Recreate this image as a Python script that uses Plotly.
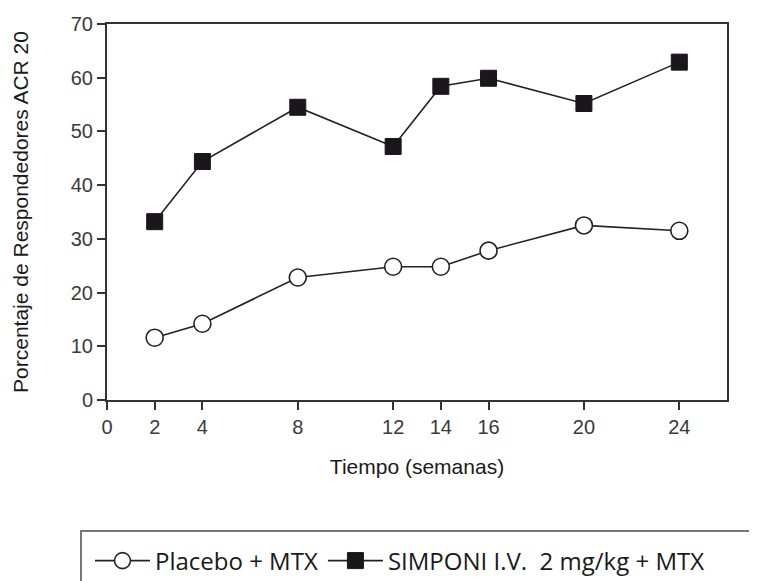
import plotly.graph_objects as go

weeks = [2, 4, 8, 12, 14, 16, 20, 24]
placebo = [11.6, 14.2, 22.8, 24.8, 24.8, 27.8, 32.5, 31.5]
simponi = [33.2, 44.4, 54.5, 47.2, 58.4, 59.9, 55.2, 62.9]
xticks = [0, 2, 4, 8, 12, 14, 16, 20, 24]
yticks = [0, 10, 20, 30, 40, 50, 60, 70]
names = ["Placebo + MTX", "SIMPONI I.V.  2 mg/kg + MTX"]

fig = go.Figure()
fig.add_trace(go.Scatter(
    x=weeks, y=placebo, name=names[0], mode="lines+markers",
    line=dict(color="#222222", width=1.6),
    marker=dict(symbol="circle", size=17, color="white",
                line=dict(color="#222222", width=1.6)),
))
fig.add_trace(go.Scatter(
    x=weeks, y=simponi, name=names[1], mode="lines+markers",
    line=dict(color="#222222", width=1.6),
    marker=dict(symbol="square", size=16, color="#1a161c",
                line=dict(color="#1a161c", width=1)),
))

# page offset (browser body margin)
OFF = 8
W, H = 757 - OFF, 581 - OFF
L, T = 107 - OFF, 24 - OFF
R = W - (727 - OFF)
B = H - (400 - OFF)
pw, ph = W - L - R, H - T - B

def px(xp):
    return (xp - OFF - L) / pw

def py(yp):
    return (H - B - (yp - OFF)) / ph

fig.add_shape(type="rect", xref="paper", yref="paper",
              x0=px(81), x1=px(770), y0=py(531), y1=py(600),
              line=dict(color="#777777", width=2), fillcolor="rgba(0,0,0,0)")

fig.update_layout(
    width=W, height=H,
    margin=dict(l=L, r=R, t=T, b=B, autoexpand=False),
    paper_bgcolor="white", plot_bgcolor="white",
    font=dict(family="Liberation Sans", color="#3a3a3a"),
    showlegend=True,
    legend=dict(
        orientation="h", x=px(90), y=py(561), xanchor="left", yanchor="middle",
        font=dict(family="Open Sans", size=24, color="#1a1a1a"),
        itemwidth=55, bgcolor="rgba(0,0,0,0)", borderwidth=0,
        tracegroupgap=0,
    ),
    xaxis=dict(
        range=[0, 26], tickvals=xticks, ticktext=[str(v) for v in xticks],
        showgrid=False, zeroline=False, showline=True, mirror=True,
        linecolor="#333333", linewidth=2, automargin=False,
        ticks="outside", ticklen=8, tickwidth=2, tickcolor="#333333",
        tickfont=dict(size=20, color="#3a3a3a"),
        title=dict(text="Tiempo (semanas)", font=dict(size=21, color="#1a1a1a"), standoff=22),
    ),
    yaxis=dict(
        range=[0, 70], tickvals=yticks, ticktext=[str(v) for v in yticks],
        showgrid=False, zeroline=False, showline=True, mirror=True,
        linecolor="#333333", linewidth=2, automargin=False,
        ticks="outside", ticklen=8, tickwidth=2, tickcolor="#333333",
        tickfont=dict(size=20, color="#3a3a3a"),
        title=dict(text="Porcentaje de Respondedores ACR 20", font=dict(size=21, color="#1a1a1a"), standoff=36),
    ),
)

fig.write_html("out.html")
